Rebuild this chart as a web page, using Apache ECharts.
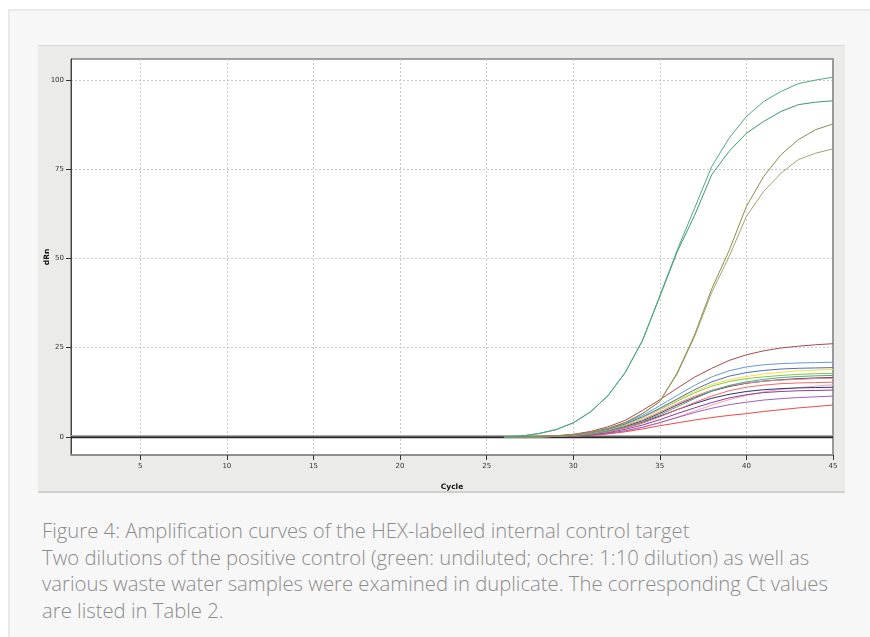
<!DOCTYPE html>
<html><head><meta charset="utf-8">
<script src="https://cdn.jsdelivr.net/npm/echarts@6/dist/echarts.min.js"></script>
<style>
html,body{margin:0;padding:0;background:#fff;width:870px;height:637px;overflow:hidden;}
#outer{position:absolute;left:8px;top:9px;width:880px;height:640px;background:#f7f7f7;border:2px solid #e9e9e9;box-sizing:border-box;}
#panel{position:absolute;left:38px;top:45px;width:807px;height:448px;background:#ebebea;border-top:1px solid #d9d9d9;border-bottom:2px solid #d0d0d0;box-sizing:border-box;}
#chart{position:absolute;left:38px;top:45px;width:807px;height:448px;}
#caption{position:absolute;left:42px;top:517px;font-family:'Open Sans',Lato,sans-serif;font-weight:300;font-size:20.3px;line-height:26.5px;color:#8c8c8c;white-space:nowrap;}
</style></head>
<body>
<div id="outer"></div>
<div id="panel"></div>
<div id="chart"></div>
<div id="caption">Figure 4: Amplification curves of the HEX-labelled internal control target<br>Two dilutions of the positive control (green: undiluted; ochre: 1:10 dilution) as well as<br>various waste water samples were examined in duplicate. The corresponding Ct values<br>are listed in Table 2.</div>
<script>
// cycles for which curves are plotted
const cycles = [26,27,28,29,30,31,32,33,34,35,36,37,38,39,40,41,42,43,44,45];
const xTicks = [5,10,15,20,25,30,35,40,45];
const yTicks = [0,25,50,75,100];
const baselineCycles = [1,45];
const baselineLevel = 0;
const yAxisTitle = 'dRn';
const xAxisTitle = 'Cycle';

// positive control, undiluted (green)
const greenA = [0,0.2,0.9,2.0,3.9,7.0,11.5,18.0,27.0,39.5,52.3,64.0,75.8,83.7,89.8,94.0,96.8,99.0,100.0,100.8];
const greenB = [0,0.2,0.9,2.0,3.9,7.0,11.5,18.0,27.0,39.3,51.8,62.0,73.5,80.0,85.1,88.4,91.2,93.1,93.8,94.2];
// positive control, 1:10 (ochre)
const ochreA = [0,0,0.1,0.2,0.6,1.2,2.3,4.0,6.5,9.9,17.9,28.5,41.5,52.2,64.6,73.0,79.1,83.3,86.1,87.7];
const ochreB = [0,0,0.1,0.2,0.6,1.2,2.3,4.0,6.5,9.9,17.6,28.0,40.5,50.5,61.8,68.8,73.9,77.7,79.5,80.7];
// waste water samples
const s1  = [0,0,0.1,0.3,0.7,1.5,2.8,4.6,7.4,10.4,13.6,16.7,19.2,21.4,23.0,24.1,24.9,25.4,25.8,26.1];
const s2  = [0,0,0,0.2,0.6,1.3,2.4,3.9,6.0,8.7,11.6,14.4,16.8,18.5,19.6,20.2,20.5,20.7,20.8,20.9];
const s3  = [0,0,0,0.2,0.5,1.1,2.1,3.6,5.6,8.0,10.6,13.2,15.4,17.0,18.0,18.6,19.0,19.2,19.3,19.4];
const s4  = [0,0,0,0.2,0.5,1.1,2.1,3.5,5.4,7.8,10.3,12.7,14.7,16.0,16.9,17.6,18.1,18.5,18.7,18.9];
const s5  = [0,0,0,0.1,0.5,1.0,2.0,3.4,5.3,7.6,10.0,12.3,14.2,15.5,16.3,16.8,17.2,17.5,17.7,17.8];
const s6  = [0,0,0,0.1,0.4,0.8,1.6,2.7,4.2,6.2,8.4,10.7,12.8,14.4,15.4,16.1,16.6,16.9,17.1,17.2];
const s7  = [0,0,0,0.1,0.4,0.9,1.8,3.1,4.8,7.0,9.3,11.4,13.1,14.3,15.1,15.6,15.9,16.1,16.3,16.4];
const s8  = [0,0,0,0.1,0.4,0.9,1.7,2.9,4.5,6.6,8.9,11.0,12.8,14.1,15.0,15.6,16.0,16.3,16.5,16.6];
const s9  = [0,0,0,0.1,0.3,0.7,1.4,2.4,3.8,5.6,7.6,9.6,11.4,12.9,13.9,14.5,14.9,15.1,15.2,15.3];
const s10 = [0,0,0,0.1,0.3,0.8,1.6,2.7,4.1,5.8,7.6,9.3,10.8,11.9,12.7,13.2,13.5,13.7,13.8,13.9];
const s11 = [0,0,0,0.1,0.3,0.6,1.2,2.1,3.3,4.8,6.5,8.1,9.6,10.9,11.8,12.4,12.7,12.9,13.0,13.1];
const s12 = [0,0,0,0.1,0.2,0.5,1.0,1.7,2.7,4.0,5.4,6.8,8.0,9.0,9.7,10.3,10.7,11.0,11.2,11.4];
const s13 = [0,0,0,0.1,0.2,0.4,0.8,1.4,2.2,3.1,3.9,4.7,5.4,6.0,6.5,7.1,7.6,8.1,8.5,8.9];
const s14 = [0,0,0,0.1,0.2,0.5,0.9,1.6,2.6,3.9,5.5,7.2,8.9,10.4,11.6,12.6,13.3,13.8,14.2,14.6];

const curveDefs = [
  ['s14', s14, '#f4a3b2'], ['s13', s13, '#f04848'], ['s12', s12, '#a45cb8'], ['s11', s11, '#8a3d9e'],
  ['s10', s10, '#27357a'], ['s9', s9, '#f26a6a'], ['s8', s8, '#8b1f30'], ['s7', s7, '#c49696'],
  ['s6', s6, '#48aaa0'], ['s5', s5, '#8cc63f'], ['s4', s4, '#f2e33a'], ['s3', s3, '#4b6cc0'],
  ['s2', s2, '#6c97d8'], ['s1', s1, '#a84a4e'],
  ['ochreB', ochreB, '#a4a470'], ['ochreA', ochreA, '#8e8e4a'],
  ['greenB', greenB, '#3a9c6c'], ['greenA', greenA, '#4eaa80']
];

const series = [
  { name: 'baselineGray', type: 'line', data: baselineCycles.map(c => [c, baselineLevel + 0.35]),
    showSymbol: false, silent: true, z: 1, lineStyle: { color: '#a8a8a8', width: 1 } },
  { name: 'baseline', type: 'line', data: baselineCycles.map(c => [c, baselineLevel - 0.15]),
    showSymbol: false, silent: true, z: 1, lineStyle: { color: '#2b2b2b', width: 2 } }
];
curveDefs.forEach(([name, vals, color]) => {
  series.push({
    name, type: 'line', data: cycles.map((c, i) => [c, vals[i]]),
    showSymbol: false, smooth: false, z: 3,
    lineStyle: { color, width: 1 }
  });
});

const chart = echarts.init(document.getElementById('chart'));
chart.setOption({
  animation: false,
  grid: { left: 33, top: 14, right: 12, bottom: 38, outerBoundsMode: 'none', containLabel: false,
          show: true, backgroundColor: '#fff', borderColor: '#4a4a4a', borderWidth: 1 },
  graphic: [{
    type: 'text', x: 9.5, y: 212, rotation: Math.PI / 2, z: 10,
    style: { text: yAxisTitle, align: 'center', verticalAlign: 'middle',
             font: 'bold 7.5px "DejaVu Sans"', fill: '#111' }
  }],
  xAxis: {
    type: 'value', min: 1, max: 45,
    name: xAxisTitle, nameLocation: 'middle', nameGap: 28,
    nameTextStyle: { fontSize: 7.5, fontWeight: 'bold', color: '#111', fontFamily: 'DejaVu Sans' },
    axisLine: { show: true, onZero: false, lineStyle: { color: '#8f8f8f', width: 2 } },
    axisTick: { show: true, length: 5, customValues: xTicks, lineStyle: { color: '#333' } },
    axisLabel: { customValues: xTicks, fontSize: 7, color: '#333', margin: 8, fontFamily: 'DejaVu Sans' },
    splitLine: { show: true, lineStyle: { color: '#c9c9c9', type: [2, 2], width: 1 } }
  },
  yAxis: [{
    type: 'value', min: -5.1, max: 105.9,
    axisLine: { show: true, lineStyle: { color: '#444', width: 1 } },
    axisTick: { show: true, length: 5, customValues: yTicks, lineStyle: { color: '#333' } },
    axisLabel: { customValues: yTicks, fontSize: 7, color: '#333', margin: 7, fontFamily: 'DejaVu Sans' },
    splitLine: { show: true, lineStyle: { color: '#c9c9c9', type: [2, 2], width: 1 } }
  }, {
    type: 'value', min: -5.1, max: 105.9, position: 'right',
    axisLine: { show: true, lineStyle: { color: '#9a9a9a', width: 2 } },
    axisTick: { show: false }, axisLabel: { show: false }, splitLine: { show: false }
  }],
  series
});
</script>
</body></html>
